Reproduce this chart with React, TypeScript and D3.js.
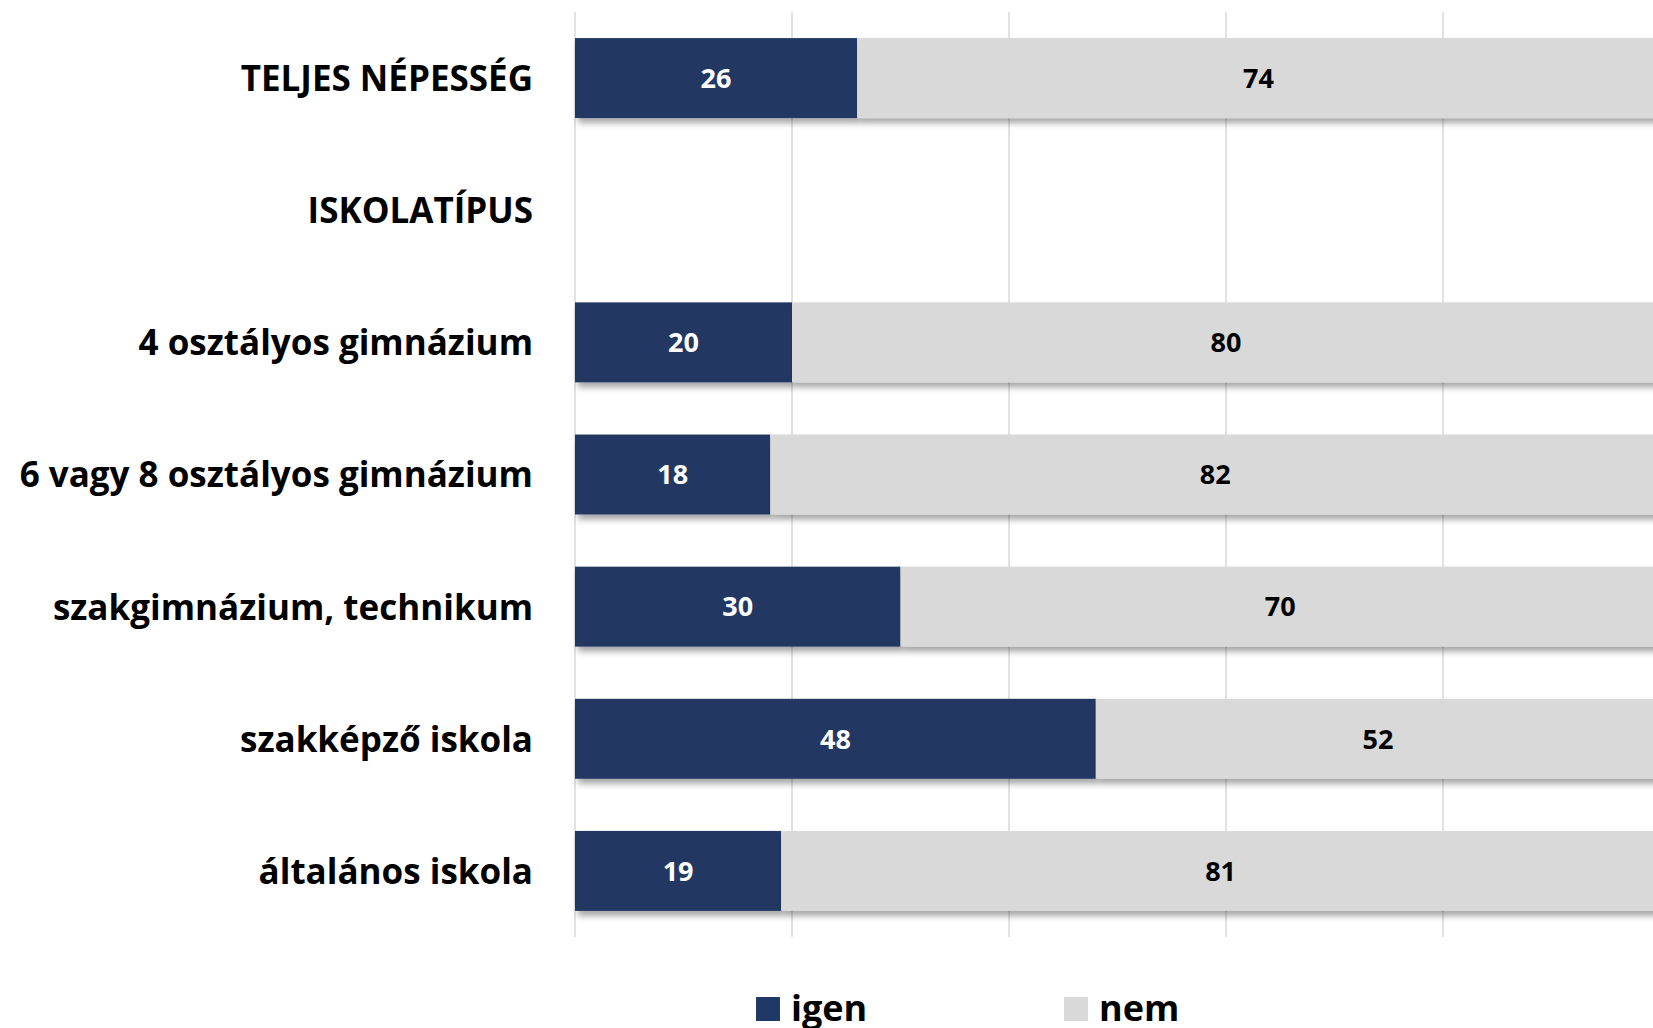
import React from "react";
import * as d3 from "d3";

// categories top to bottom
const categories = [
  "TELJES NÉPESSÉG",
  "ISKOLATÍPUS",
  "4 osztályos gimnázium",
  "6 vagy 8 osztályos gimnázium",
  "szakgimnázium, technikum",
  "szakképző iskola",
  "általános iskola",
];
const igen = [26, null, 20, 18, 30, 48, 19];
const nem = [74, null, 80, 82, 70, 52, 81];
const xTicks = [0, 20, 40, 60, 80, 100];
const seriesNames = ["igen", "nem"];
const colors = ["#203864", "#d9d9d9"];

const W = 1653;
const H = 1028;
const margin = { top: 12, left: 575, bottom: 91 };
const font = "'Open Sans', 'DejaVu Sans', sans-serif";

const App = () => {
  const x = d3
    .scaleLinear()
    .domain([0, 100])
    .range([margin.left, margin.left + 1085]);

  const y = d3
    .scaleBand()
    .domain(categories)
    .range([margin.top, H - margin.bottom])
    .paddingInner(0.395)
    .paddingOuter(0.1975);

  const rows = categories.map((c, i) => ({ c, igen: igen[i], nem: nem[i] }));

  return (
    <svg
      width={W}
      height={H}
      style={{ position: "absolute", left: 0, top: 0, background: "#fff" }}
    >
      <defs>
        <filter id="shadow" x="-5%" y="-20%" width="115%" height="160%">
          <feDropShadow dx="3" dy="5" stdDeviation="3" floodColor="#000" floodOpacity="0.35" />
        </filter>
      </defs>

      {/* gridlines */}
      {xTicks.map((t) => (
        <line
          key={t}
          x1={x(t)}
          x2={x(t)}
          y1={margin.top}
          y2={H - margin.bottom}
          stroke="#d9d9d9"
          strokeWidth={1.5}
        />
      ))}

      {/* bars */}
      {rows.map((r) => {
        if (r.igen == null) return null;
        const yy = y(r.c);
        const h = y.bandwidth();
        return (
          <g key={r.c}>
            <rect
              x={x(0)}
              y={yy}
              width={x(r.igen) - x(0)}
              height={h}
              fill={colors[0]}
              filter="url(#shadow)"
            />
            <rect
              x={x(r.igen)}
              y={yy}
              width={x(r.igen + r.nem) - x(r.igen)}
              height={h}
              fill={colors[1]}
              filter="url(#shadow)"
            />
            <text
              x={(x(0) + x(r.igen)) / 2}
              y={yy + h / 2}
              dy="0.36em"
              textAnchor="middle"
              fontFamily={font}
              fontWeight="bold"
              fontSize={27}
              fill="#fff"
            >
              {r.igen}
            </text>
            <text
              x={(x(r.igen) + x(r.igen + r.nem)) / 2}
              y={yy + h / 2}
              dy="0.36em"
              textAnchor="middle"
              fontFamily={font}
              fontWeight="bold"
              fontSize={27}
              fill="#000"
            >
              {r.nem}
            </text>
          </g>
        );
      })}

      {/* category labels */}
      {categories.map((c) => (
        <text
          key={c}
          x={533}
          y={y(c) + y.bandwidth() / 2}
          dy="0.37em"
          textAnchor="end"
          fontFamily={font}
          fontWeight="bold"
          fontSize={35}
          fill="#000"
        >
          {c}
        </text>
      ))}

      {/* legend */}
      {seriesNames.map((s, i) => (
        <g key={s} transform={`translate(${756 + i * 308},997)`}>
          <rect width={24} height={24} fill={colors[i]} />
          <text
            x={35}
            y={11}
            dy="0.36em"
            fontFamily={font}
            fontWeight="bold"
            fontSize={36}
            fill="#000"
          >
            {s}
          </text>
        </g>
      ))}
    </svg>
  );
};

export default App;
